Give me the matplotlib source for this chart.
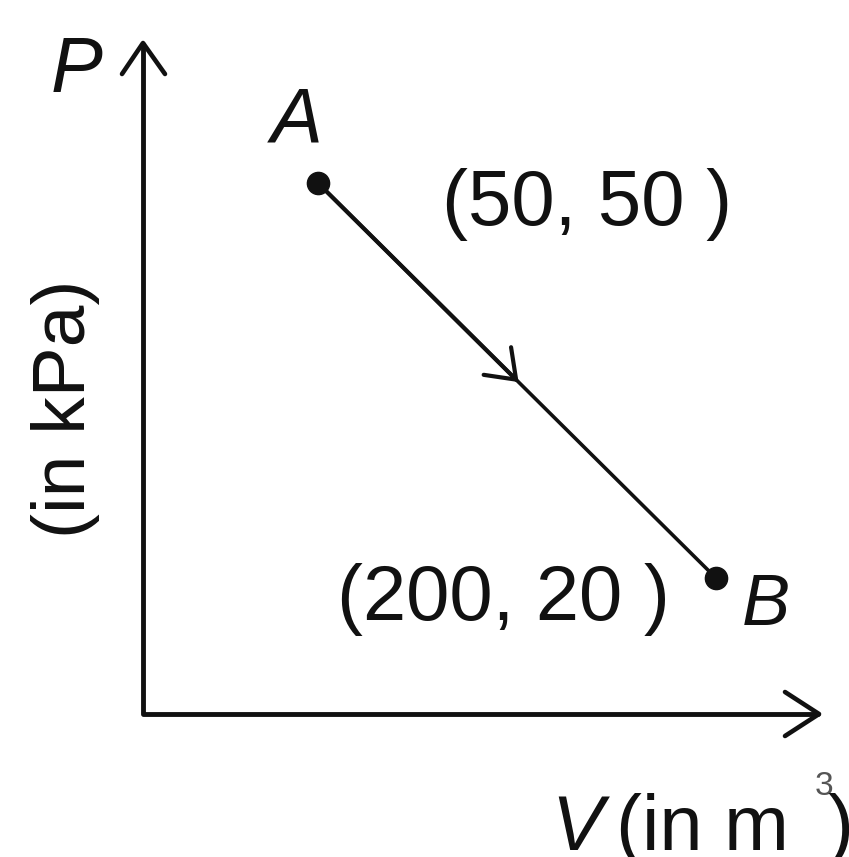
import matplotlib
matplotlib.use("Agg")
import matplotlib.pyplot as plt

# Data
point_names = ["A", "B"]
V_vals = [50, 200]      # m^3
P_vals = [50, 20]       # kPa
point_labels = ["(50, 50 )", "(200, 20 )"]

W, H = 849, 857
fig = plt.figure(figsize=(W / 100, H / 100), dpi=100)
fig.patch.set_facecolor("white")
ax = fig.add_axes([0, 0, 1, 1])
ax.set_xlim(-69.85, 250.13)
ax.set_ylim(-1.19, 63.9)
ax.axis("off")

FONT = "Liberation Sans"
INK = "#111111"

def fx(x):
    return x / W

def fy(y):
    return 1 - y / H

def fline(xs, ys, lw):
    ax.plot([fx(x) for x in xs], [fy(y) for y in ys], transform=fig.transFigure,
            color=INK, lw=lw, solid_joinstyle="round", solid_capstyle="round",
            clip_on=False)

# Axes (L shape) with open arrowheads
fline([143, 143, 818], [44, 714, 714], 3.5)
fline([122, 143, 165], [74, 43, 74], 3.3)
fline([785, 819, 785], [692, 714, 736], 3.3)

# Process line A -> B
ax.plot(V_vals, P_vals, color=INK, lw=2.6, solid_capstyle="round", zorder=2)
mid = (V_vals[0] + 0.504 * (V_vals[1] - V_vals[0]),
       P_vals[0] + 0.504 * (P_vals[1] - P_vals[0]))
ax.annotate("", xy=mid, xytext=(V_vals[0], P_vals[0]),
            arrowprops=dict(arrowstyle="->,head_length=19,head_width=14",
                            mutation_scale=1, lw=3.0, color=INK,
                            shrinkA=0, shrinkB=0, joinstyle="round",
                            capstyle="round"))
ax.plot(V_vals, P_vals, "o", color=INK, markersize=16, zorder=3)

# Point names
ax.text(fx(297), fy(142), point_names[0], transform=fig.transFigure,
        fontsize=56, fontstyle="italic", family=FONT, color=INK,
        ha="center", va="baseline")
ax.text(fx(766), fy(625), point_names[1], transform=fig.transFigure,
        fontsize=52, fontstyle="italic", family=FONT, color=INK,
        ha="center", va="baseline")

# Coordinate labels
ax.text(fx(587), fy(225), point_labels[0], transform=fig.transFigure,
        fontsize=56, family=FONT, color=INK, ha="center", va="baseline")
ax.text(fx(503), fy(620), point_labels[1], transform=fig.transFigure,
        fontsize=56, family=FONT, color=INK, ha="center", va="baseline")

# Axis labels
ax.text(fx(77), fy(92), "P", transform=fig.transFigure, fontsize=56,
        fontstyle="italic", family=FONT, color=INK, ha="center",
        va="baseline")
ax.text(fx(65), fy(409), "(in kPa)", transform=fig.transFigure,
        fontsize=54, family=FONT, color=INK, rotation=90,
        ha="center", va="center")
ax.text(fx(577), fy(850), "V", transform=fig.transFigure, fontsize=56,
        fontstyle="italic", family=FONT, color=INK, ha="center",
        va="baseline")
ax.text(fx(616), fy(850), "(in m", transform=fig.transFigure, fontsize=56,
        family=FONT, color=INK, ha="left", va="baseline")
ax.text(fx(824), fy(795), "3", transform=fig.transFigure, fontsize=24,
        family=FONT, color="#555555", ha="center", va="baseline")
ax.text(fx(840), fy(850), ")", transform=fig.transFigure, fontsize=56,
        family=FONT, color=INK, ha="center", va="baseline")

fig.savefig("out.png", dpi=100, facecolor="white")
